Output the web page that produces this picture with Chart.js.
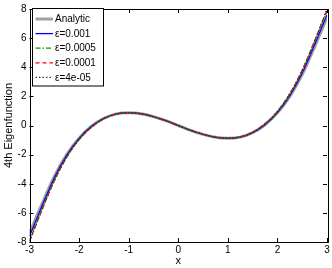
<!DOCTYPE html>
<html lang="en">
<head>
  <meta charset="UTF-8" />
  <title>4th Eigenfunction</title>
  <script src="https://cdn.jsdelivr.net/npm/chart.js@4.4.1/dist/chart.umd.min.js"></script>
  <style>
    html, body { margin: 0; padding: 0; background: #fff; }
  </style>
</head>
<body>
<div style="width: 332px; height: 268px">
  <canvas id="eigenChart" width="332" height="268"></canvas>
</div>
<script>
    // values
    const xs = [-3, -2.75, -2.5, -2.25, -2, -1.75, -1.5, -1.25, -1, -0.75, -0.5, -0.25, 0,
                0.25, 0.5, 0.75, 1, 1.25, 1.5, 1.75, 2, 2.25, 2.5, 2.75, 3];

    const analytic = [-7.4, -5.4, -3.5, -2.0, -0.87, -0.05, 0.5, 0.8, 0.88, 0.81, 0.61, 0.33, 0,
                      -0.33, -0.61, -0.81, -0.88, -0.8, -0.5, 0.05, 0.87, 2.0, 3.5, 5.4, 7.4];
    const eps001 = [-7.6, -5.55, -3.6, -2.05, -0.89, -0.06, 0.49, 0.8, 0.88, 0.81, 0.61, 0.33, 0,
                    -0.33, -0.61, -0.81, -0.88, -0.8, -0.49, 0.06, 0.89, 2.05, 3.6, 5.55, 7.6];
    const eps0005 = [-7.85, -5.75, -3.75, -2.15, -0.95, -0.1, 0.47, 0.78, 0.87, 0.8, 0.6, 0.33, 0,
                     -0.33, -0.6, -0.8, -0.87, -0.78, -0.47, 0.1, 0.95, 2.15, 3.75, 5.75, 7.85];
    const eps0001 = [-7.95, -5.8, -3.8, -2.18, -0.96, -0.11, 0.46, 0.78, 0.87, 0.8, 0.6, 0.33, 0,
                     -0.33, -0.6, -0.8, -0.87, -0.78, -0.46, 0.11, 0.96, 2.18, 3.8, 5.8, 7.95];
    const eps4e05 = [-7.98, -5.82, -3.81, -2.19, -0.97, -0.12, 0.46, 0.78, 0.87, 0.8, 0.6, 0.33, 0,
                     -0.33, -0.6, -0.8, -0.87, -0.78, -0.46, 0.12, 0.97, 2.19, 3.81, 5.82, 7.98];

    const labels = ["Analytic", "\u03b5=0.001", "\u03b5=0.0005", "\u03b5=0.0001", "\u03b5=4e-05"];
    const xTicks = [-3, -2, -1, 0, 1, 2, 3];
    const yTicks = [-8, -6, -4, -2, 0, 2, 4, 6, 8];

    const FONT = "'Liberation Sans', Arial, Helvetica, sans-serif";

    const styles = [
      { color: "#a0a0a0", width: 3, dash: [] },
      { color: "#0000ff", width: 1.3, dash: [] },
      { color: "#00a000", width: 1.3, dash: [5, 2, 1.5, 2] },
      { color: "#ff0000", width: 1.3, dash: [4, 3] },
      { color: "#333333", width: 1.2, dash: [1.5, 2] },
    ];

    const series = [analytic, eps001, eps0005, eps0001, eps4e05];

    const datasets = series.map((vals, i) => ({
      label: labels[i],
      data: xs.map((x, j) => ({ x: x, y: vals[j] })),
      borderColor: styles[i].color,
      borderWidth: styles[i].width,
      borderDash: styles[i].dash,
      pointRadius: 0,
      fill: false,
      cubicInterpolationMode: "monotone",
      order: 10 - i,
    }));

    // box + inward ticks, matlab style
    const boxPlugin = {
      id: "box",
      afterDatasetsDraw(chart) {
        const { ctx, chartArea: a, scales } = chart;
        ctx.save();
        ctx.strokeStyle = "#000";
        ctx.lineWidth = 1;
        ctx.setLineDash([]);
        ctx.beginPath();
        xTicks.forEach((t) => {
          const px = Math.round(scales.x.getPixelForValue(t)) + 0.5;
          ctx.moveTo(px, a.bottom); ctx.lineTo(px, a.bottom - 4);
          ctx.moveTo(px, a.top); ctx.lineTo(px, a.top + 4);
        });
        yTicks.forEach((t) => {
          const py = Math.round(scales.y.getPixelForValue(t)) + 0.5;
          ctx.moveTo(a.left, py); ctx.lineTo(a.left + 4, py);
          ctx.moveTo(a.right, py); ctx.lineTo(a.right - 4, py);
        });
        ctx.stroke();
        ctx.strokeRect(Math.round(a.left) + 0.5, Math.round(a.top) + 0.5,
                       Math.round(a.right - a.left), Math.round(a.bottom - a.top));
        ctx.restore();
      },
      afterDraw(chart) {
        // legend inside the top left corner
        const ctx = chart.ctx;
        const bx = 32.5, by = 8.5, bw = 71, bh = 77.5;
        ctx.save();
        ctx.fillStyle = "#fff";
        ctx.fillRect(bx, by, bw, bh);
        ctx.strokeStyle = "#000";
        ctx.lineWidth = 1;
        ctx.strokeRect(bx, by, bw, bh);
        ctx.font = "10px " + FONT;
        ctx.textBaseline = "middle";
        ctx.textAlign = "left";
        labels.forEach((lab, i) => {
          const y = 19 + i * 14.6;
          ctx.beginPath();
          ctx.strokeStyle = styles[i].color;
          ctx.lineWidth = styles[i].width;
          ctx.setLineDash(styles[i].dash);
          ctx.moveTo(35.5, y);
          ctx.lineTo(53, y);
          ctx.stroke();
          ctx.setLineDash([]);
          ctx.fillStyle = "#000";
          ctx.fillText(lab, 55, y + 0.5);
        });
        ctx.restore();
      },
    };

    const config = {
      type: "line",
      data: { datasets: datasets },
      options: {
        responsive: false,
        animation: false,
        layout: { padding: { left: 0, right: 5, top: 7, bottom: 0 } },
        plugins: {
          legend: { display: false },
          tooltip: { enabled: false },
        },
        scales: {
          x: {
            type: "linear",
            min: -3,
            max: 3,
            afterFit: (s) => { s.height = 26; },
            afterBuildTicks: (s) => { s.ticks = xTicks.map((v) => ({ value: v })); },
            grid: { display: false, drawTicks: false },
            border: { display: false },
            ticks: { color: "#000", font: { family: FONT, size: 10 }, padding: 2, maxRotation: 0 },
            title: { display: true, text: "x", color: "#000", font: { family: FONT, size: 11 }, padding: { top: 0, bottom: 0 } },
          },
          y: {
            min: -8,
            max: 8,
            afterFit: (s) => { s.width = 29.5; },
            afterBuildTicks: (s) => { s.ticks = yTicks.map((v) => ({ value: v })); },
            grid: { display: false, drawTicks: false },
            border: { display: false },
            ticks: { color: "#000", font: { family: FONT, size: 10 }, padding: 3 },
            title: { display: true, text: "4th Eigenfunction", color: "#000", font: { family: FONT, size: 11 }, padding: { top: 2, bottom: 0 } },
          },
        },
      },
      plugins: [boxPlugin],
    };

    new Chart(document.getElementById("eigenChart"), config);
</script>
</body>
</html>
